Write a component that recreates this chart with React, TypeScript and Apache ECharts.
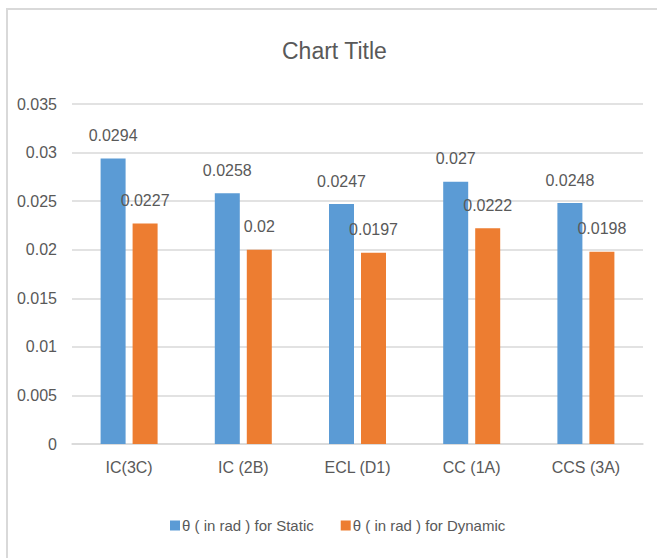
import React, { useEffect, useRef } from "react";
import * as echarts from "echarts";

const categories = ["IC(3C)", "IC (2B)", "ECL (D1)", "CC (1A)", "CCS (3A)"];
const staticValues = [0.0294, 0.0258, 0.0247, 0.027, 0.0248];
const dynamicValues = [0.0227, 0.02, 0.0197, 0.0222, 0.0198];
const seriesNames = ["θ ( in rad ) for Static", "θ ( in rad ) for Dynamic"];
const titleText = "Chart Title";

const FONT = "'Liberation Sans', Arial, sans-serif";
const TEXT = "#595959";
const GRID = "#d9d9d9";

export default function App() {
  const ref = useRef<HTMLDivElement>(null);
  useEffect(() => {
    if (!ref.current) return;
    const chart = echarts.init(ref.current, undefined, { renderer: "svg" });
    const labelStyle = {
      show: true,
      position: "top" as const,
      distance: 15,
      color: TEXT,
      fontFamily: FONT,
      fontSize: 16,
    };
    chart.setOption({
      animation: false,
      backgroundColor: "#ffffff",
      textStyle: { fontFamily: FONT },
      title: {
        text: titleText,
        left: 282,
        top: 39,
        padding: 0,
        textStyle: { color: TEXT, fontFamily: FONT, fontSize: 23, fontWeight: "normal" },
      },
      legend: {
        left: 170,
        top: 518,
        padding: 0,
        itemWidth: 10,
        itemHeight: 10,
        itemGap: 27,
        icon: "rect",
        textStyle: { color: TEXT, fontFamily: FONT, fontSize: 15, padding: [0, 0, 0, -3] },
        data: seriesNames,
      },
      grid: { left: 72, right: 14, top: 104, bottom: 114, containLabel: false },
      xAxis: {
        type: "category",
        data: categories,
        axisLine: { show: true, lineStyle: { color: GRID, width: 1.5 } },
        axisTick: { show: false },
        axisLabel: { color: TEXT, fontFamily: FONT, fontSize: 16, margin: 15 },
      },
      yAxis: {
        type: "value",
        min: 0,
        max: 0.035,
        interval: 0.005,
        axisLine: { show: false },
        axisTick: { show: false },
        axisLabel: { color: TEXT, fontFamily: FONT, fontSize: 16, margin: 15 },
        splitLine: { show: true, lineStyle: { color: GRID, width: 1.5 } },
      },
      series: [
        {
          name: seriesNames[0],
          type: "bar",
          data: staticValues,
          barWidth: 25,
          barGap: "28%",
          itemStyle: { color: "#5b9bd5" },
          label: labelStyle,
        },
        {
          name: seriesNames[1],
          type: "bar",
          data: dynamicValues,
          barWidth: 25,
          barGap: "28%",
          itemStyle: { color: "#ed7d31" },
          label: labelStyle,
        },
      ],
      graphic: [
        { type: "rect", shape: { x: 6, y: 8, width: 651, height: 2 }, style: { fill: GRID }, silent: true },
        { type: "rect", shape: { x: 6, y: 8, width: 2, height: 550 }, style: { fill: GRID }, silent: true },
      ],
    });
    return () => chart.dispose();
  }, []);
  return (
    <div
      ref={ref}
      style={{ position: "absolute", left: 0, top: 0, width: 657, height: 558 }}
    />
  );
}
